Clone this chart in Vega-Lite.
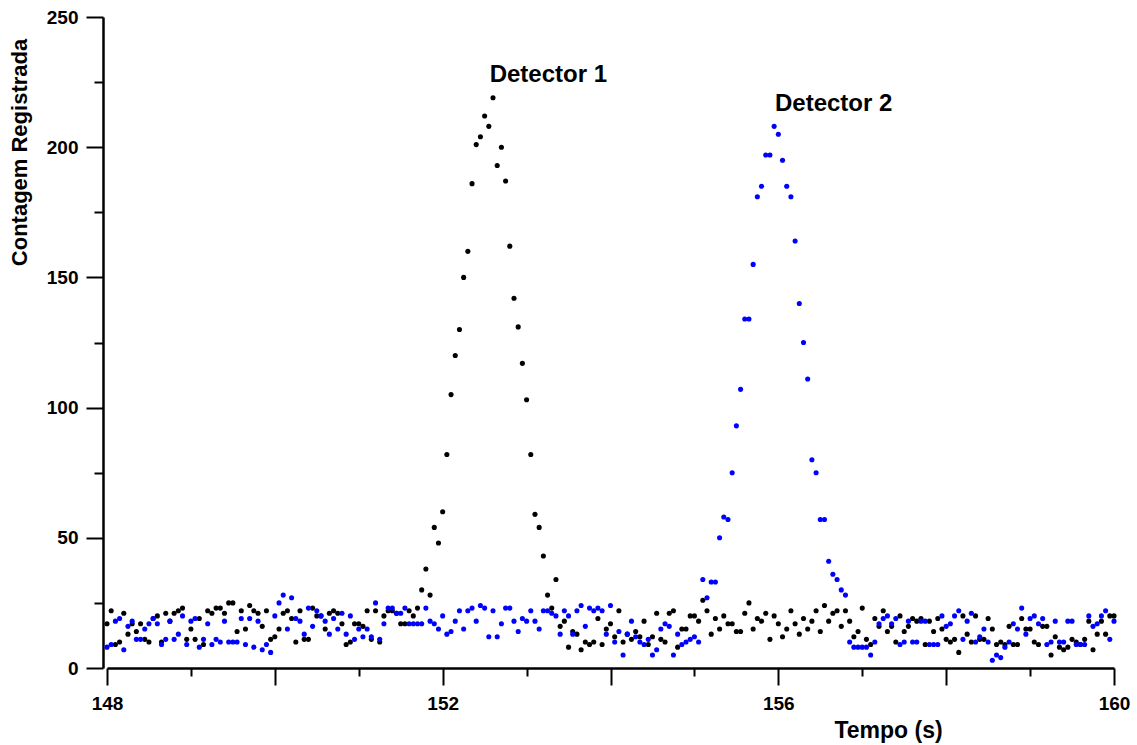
{
  "$schema": "https://vega.github.io/schema/vega-lite/v6.json",
  "width": 1007,
  "height": 651,
  "autosize": {"type": "none"},
  "padding": {"left": 107, "top": 17, "right": 23, "bottom": 77},
  "background": "white",
  "config": {"view": {"stroke": null}, "font": "Liberation Sans"},
  "data": {"values": [
    {"t":148,"a":17,"b":8},{"t":148.05,"a":22,"b":9},{"t":148.1,"a":9,"b":18},{"t":148.15,"a":10,"b":19},{"t":148.2,"a":21,"b":7},
    {"t":148.25,"a":13,"b":16},{"t":148.3,"a":17,"b":18},{"t":148.35,"a":14,"b":11},{"t":148.4,"a":17,"b":11},{"t":148.45,"a":11,"b":15},
    {"t":148.5,"a":10,"b":17},{"t":148.55,"a":19,"b":19},{"t":148.6,"a":20,"b":17},{"t":148.65,"a":10,"b":9},{"t":148.7,"a":21,"b":11},
    {"t":148.75,"a":18,"b":18},{"t":148.8,"a":21,"b":11},{"t":148.85,"a":22,"b":13},{"t":148.9,"a":23,"b":20},{"t":148.95,"a":11,"b":9},
    {"t":149,"a":15,"b":18},{"t":149.05,"a":11,"b":19},{"t":149.1,"a":19,"b":8},{"t":149.15,"a":9,"b":11},{"t":149.2,"a":22,"b":17},
    {"t":149.25,"a":21,"b":9},{"t":149.3,"a":23,"b":11},{"t":149.35,"a":23,"b":10},{"t":149.4,"a":21,"b":18},{"t":149.45,"a":25,"b":10},
    {"t":149.5,"a":25,"b":10},{"t":149.55,"a":14,"b":10},{"t":149.6,"a":22,"b":19},{"t":149.65,"a":15,"b":9},{"t":149.7,"a":24,"b":19},
    {"t":149.75,"a":22,"b":8},{"t":149.8,"a":21,"b":18},{"t":149.85,"a":16,"b":7},{"t":149.9,"a":22,"b":9},{"t":149.95,"a":11,"b":6},
    {"t":150,"a":12,"b":20},{"t":150.05,"a":15,"b":25},{"t":150.1,"a":21,"b":28},{"t":150.15,"a":22,"b":15},{"t":150.2,"a":19,"b":27},
    {"t":150.25,"a":10,"b":19},{"t":150.3,"a":22,"b":18},{"t":150.35,"a":11,"b":13},{"t":150.4,"a":11,"b":23},{"t":150.45,"a":23,"b":16},
    {"t":150.5,"a":20,"b":22},{"t":150.55,"a":20,"b":20},{"t":150.6,"a":15,"b":18},{"t":150.65,"a":21,"b":13},{"t":150.7,"a":22,"b":19},
    {"t":150.75,"a":21,"b":15},{"t":150.8,"a":17,"b":21},{"t":150.85,"a":9,"b":13},{"t":150.9,"a":10,"b":20},{"t":150.95,"a":17,"b":11},
    {"t":151,"a":17,"b":15},{"t":151.05,"a":16,"b":12},{"t":151.1,"a":22,"b":15},{"t":151.15,"a":11,"b":12},{"t":151.2,"a":22,"b":25},
    {"t":151.25,"a":10,"b":11},{"t":151.3,"a":20,"b":17},{"t":151.35,"a":22,"b":23},{"t":151.4,"a":22,"b":23},{"t":151.45,"a":21,"b":21},
    {"t":151.5,"a":17,"b":21},{"t":151.55,"a":17,"b":23},{"t":151.6,"a":22,"b":17},{"t":151.65,"a":20,"b":17},{"t":151.7,"a":23,"b":17},
    {"t":151.75,"a":30,"b":17},{"t":151.8,"a":38,"b":23},{"t":151.85,"a":28,"b":18},{"t":151.9,"a":54,"b":17},{"t":151.95,"a":48,"b":15},
    {"t":152,"a":60,"b":20},{"t":152.05,"a":82,"b":13},{"t":152.1,"a":105,"b":14},{"t":152.15,"a":120,"b":18},{"t":152.2,"a":130,"b":22},
    {"t":152.25,"a":150,"b":15},{"t":152.3,"a":160,"b":22},{"t":152.35,"a":186,"b":23},{"t":152.4,"a":201,"b":18},{"t":152.45,"a":204,"b":24},
    {"t":152.5,"a":212,"b":23},{"t":152.55,"a":208,"b":12},{"t":152.6,"a":219,"b":22},{"t":152.65,"a":193,"b":12},{"t":152.7,"a":200,"b":17},
    {"t":152.75,"a":187,"b":23},{"t":152.8,"a":162,"b":23},{"t":152.85,"a":142,"b":18},{"t":152.9,"a":131,"b":14},{"t":152.95,"a":117,"b":19},
    {"t":153,"a":103,"b":18},{"t":153.05,"a":82,"b":22},{"t":153.1,"a":59,"b":18},{"t":153.15,"a":54,"b":15},{"t":153.2,"a":43,"b":22},
    {"t":153.25,"a":28,"b":22},{"t":153.3,"a":23,"b":21},{"t":153.35,"a":34,"b":20},{"t":153.4,"a":16,"b":13},{"t":153.45,"a":18,"b":22},
    {"t":153.5,"a":8,"b":20},{"t":153.55,"a":14,"b":13},{"t":153.6,"a":13,"b":22},{"t":153.65,"a":7,"b":24},{"t":153.7,"a":10,"b":16},
    {"t":153.75,"a":9,"b":23},{"t":153.8,"a":10,"b":22},{"t":153.85,"a":19,"b":23},{"t":153.9,"a":9,"b":22},{"t":153.95,"a":15,"b":13},
    {"t":154,"a":17,"b":24},{"t":154.05,"a":12,"b":10},{"t":154.1,"a":22,"b":14},{"t":154.15,"a":10,"b":5},{"t":154.2,"a":13,"b":13},
    {"t":154.25,"a":11,"b":18},{"t":154.3,"a":14,"b":12},{"t":154.35,"a":12,"b":10},{"t":154.4,"a":18,"b":9},{"t":154.45,"a":9,"b":11},
    {"t":154.5,"a":12,"b":5},{"t":154.55,"a":21,"b":7},{"t":154.6,"a":11,"b":15},{"t":154.65,"a":10,"b":17},{"t":154.7,"a":21,"b":16},
    {"t":154.75,"a":22,"b":5},{"t":154.8,"a":8,"b":13},{"t":154.85,"a":15,"b":9},{"t":154.9,"a":15,"b":10},{"t":154.95,"a":20,"b":11},
    {"t":155,"a":20,"b":12},{"t":155.05,"a":18,"b":10},{"t":155.1,"a":26,"b":34},{"t":155.15,"a":22,"b":27},{"t":155.2,"a":13,"b":33},
    {"t":155.25,"a":19,"b":33},{"t":155.3,"a":15,"b":50},{"t":155.35,"a":20,"b":58},{"t":155.4,"a":17,"b":57},{"t":155.45,"a":17,"b":75},
    {"t":155.5,"a":14,"b":93},{"t":155.55,"a":14,"b":107},{"t":155.6,"a":21,"b":134},{"t":155.65,"a":25,"b":134},{"t":155.7,"a":15,"b":155},
    {"t":155.75,"a":19,"b":181},{"t":155.8,"a":18,"b":185},{"t":155.85,"a":21,"b":197},{"t":155.9,"a":11,"b":197},{"t":155.95,"a":20,"b":208},
    {"t":156,"a":17,"b":205},{"t":156.05,"a":12,"b":195},{"t":156.1,"a":15,"b":185},{"t":156.15,"a":22,"b":181},{"t":156.2,"a":17,"b":164},
    {"t":156.25,"a":13,"b":140},{"t":156.3,"a":19,"b":125},{"t":156.35,"a":15,"b":111},{"t":156.4,"a":18,"b":80},{"t":156.45,"a":22,"b":75},
    {"t":156.5,"a":14,"b":57},{"t":156.55,"a":24,"b":57},{"t":156.6,"a":18,"b":41},{"t":156.65,"a":21,"b":36},{"t":156.7,"a":22,"b":34},
    {"t":156.75,"a":16,"b":30},{"t":156.8,"a":22,"b":28},{"t":156.85,"a":18,"b":10},{"t":156.9,"a":12,"b":8},{"t":156.95,"a":14,"b":8},
    {"t":157,"a":23,"b":8},{"t":157.05,"a":11,"b":8},{"t":157.1,"a":9,"b":5},{"t":157.15,"a":19,"b":10},{"t":157.2,"a":16,"b":17},
    {"t":157.25,"a":22,"b":19},{"t":157.3,"a":14,"b":20},{"t":157.35,"a":16,"b":17},{"t":157.4,"a":10,"b":19},{"t":157.45,"a":20,"b":9},
    {"t":157.5,"a":14,"b":10},{"t":157.55,"a":16,"b":18},{"t":157.6,"a":19,"b":10},{"t":157.65,"a":18,"b":10},{"t":157.7,"a":19,"b":18},
    {"t":157.75,"a":9,"b":18},{"t":157.8,"a":18,"b":9},{"t":157.85,"a":14,"b":9},{"t":157.9,"a":19,"b":9},{"t":157.95,"a":15,"b":20},
    {"t":158,"a":11,"b":16},{"t":158.05,"a":10,"b":17},{"t":158.1,"a":11,"b":20},{"t":158.15,"a":6,"b":22},{"t":158.2,"a":20,"b":11},
    {"t":158.25,"a":13,"b":18},{"t":158.3,"a":10,"b":21},{"t":158.35,"a":20,"b":10},{"t":158.4,"a":11,"b":12},{"t":158.45,"a":11,"b":15},
    {"t":158.5,"a":19,"b":10},{"t":158.55,"a":15,"b":3},{"t":158.6,"a":9,"b":5},{"t":158.65,"a":10,"b":4},{"t":158.7,"a":9,"b":8},
    {"t":158.75,"a":16,"b":10},{"t":158.8,"a":9,"b":17},{"t":158.85,"a":9,"b":15},{"t":158.9,"a":19,"b":23},{"t":158.95,"a":15,"b":13},
    {"t":159,"a":15,"b":19},{"t":159.05,"a":10,"b":20},{"t":159.1,"a":9,"b":17},{"t":159.15,"a":16,"b":19},{"t":159.2,"a":16,"b":9},
    {"t":159.25,"a":5,"b":10},{"t":159.3,"a":12,"b":18},{"t":159.35,"a":8,"b":10},{"t":159.4,"a":7,"b":10},{"t":159.45,"a":8,"b":18},
    {"t":159.5,"a":11,"b":18},{"t":159.55,"a":10,"b":9},{"t":159.6,"a":9,"b":9},{"t":159.65,"a":11,"b":9},{"t":159.7,"a":18,"b":20},
    {"t":159.75,"a":7,"b":16},{"t":159.8,"a":13,"b":17},{"t":159.85,"a":18,"b":20},{"t":159.9,"a":13,"b":22},{"t":159.95,"a":20,"b":11},
    {"t":160,"a":20,"b":18}
  ]},
  "layer": [
    {
      "mark": {"type": "point", "filled": true, "shape": "circle", "size": 26, "opacity": 1, "color": "#000000"},
      "encoding": {
        "x": {"field": "t", "type": "quantitative",
          "scale": {"domain": [148, 160], "nice": false, "zero": false},
          "axis": {"orient": "bottom", "values": [148, 150, 152, 154, 156, 158, 160],
            "labelExpr": "datum.value % 4 == 0 ? datum.label : ''",
            "grid": false, "domainColor": "#000", "domainWidth": 2.5, "tickColor": "#000", "tickWidth": 2, "tickSize": 17,
            "labelFontSize": 19, "labelFontWeight": "bold", "labelColor": "#000", "labelPadding": 9, "labelFlush": false,
            "title": "Tempo (s)", "titleFontSize": 23, "titleFontWeight": "bold", "titleColor": "#000",
            "titleX": 781, "titleY": 62, "titleAlign": "center", "titleBaseline": "middle"}},
        "y": {"field": "a", "type": "quantitative",
          "scale": {"domain": [0, 250], "nice": false},
          "axis": {"orient": "left", "offset": 4, "values": [0, 50, 100, 150, 200, 250],
            "grid": false, "domainColor": "#000", "domainWidth": 2.5, "tickColor": "#000", "tickWidth": 2, "tickSize": 17,
            "labelFontSize": 19, "labelFontWeight": "bold", "labelColor": "#000", "labelPadding": 8, "labelFlush": false,
            "title": "Contagem Registrada", "titleFontSize": 22, "titleFontWeight": "bold", "titleColor": "#000",
            "titleX": -84, "titleY": 135, "titleAngle": -90, "titleAlign": "center", "titleBaseline": "middle"}}
      }
    },
    {
      "mark": {"type": "point", "filled": true, "shape": "circle", "size": 26, "opacity": 1, "color": "#0000ff"},
      "encoding": {
        "x": {"field": "t", "type": "quantitative",
          "axis": {"orient": "bottom", "values": [149, 151, 153, 155, 157, 159], "labels": false, "domain": false,
            "grid": false, "tickColor": "#000", "tickWidth": 2, "tickSize": 8, "title": null}},
        "y": {"field": "b", "type": "quantitative",
          "axis": {"orient": "left", "offset": 4, "values": [25, 75, 125, 175, 225], "labels": false, "domain": false,
            "grid": false, "tickColor": "#000", "tickWidth": 2, "tickSize": 9, "title": null}}
      }
    },
    {
      "data": {"values": [
        {"t": 152.56, "v": 225, "label": "Detector 1"},
        {"t": 155.96, "v": 214, "label": "Detector 2"}
      ]},
      "mark": {"type": "text", "align": "left", "baseline": "alphabetic", "fontSize": 24, "fontWeight": "bold", "color": "#000"},
      "encoding": {
        "x": {"field": "t", "type": "quantitative", "axis": null},
        "y": {"field": "v", "type": "quantitative", "axis": null},
        "text": {"field": "label"}
      }
    }
  ],
  "resolve": {"axis": {"x": "independent", "y": "independent"}}
}
